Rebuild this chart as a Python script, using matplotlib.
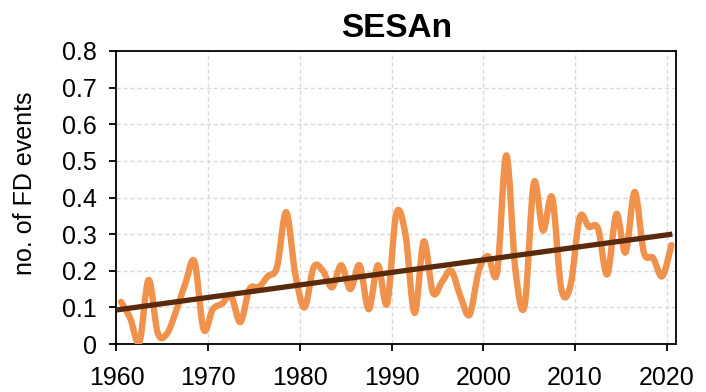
import numpy as np
import matplotlib
matplotlib.use('Agg')
import matplotlib.pyplot as plt
from matplotlib.path import Path
from matplotlib.patches import PathPatch

plt.rcParams['font.family'] = ['Liberation Sans', 'DejaVu Sans']

# annual values, plotted at mid-year
years = list(range(1960, 2021))
fd_events = [
    0.115, 0.07, 0.005, 0.175, 0.03, 0.028, 0.09, 0.165, 0.225, 0.04,    # 1960s
    0.095, 0.11, 0.13, 0.06, 0.15, 0.155, 0.185, 0.21, 0.36, 0.19,       # 1970s
    0.10, 0.21, 0.20, 0.155, 0.215, 0.15, 0.215, 0.095, 0.215, 0.11,     # 1980s
    0.355, 0.30, 0.085, 0.28, 0.14, 0.17, 0.20, 0.13, 0.08, 0.20,        # 1990s
    0.24, 0.195, 0.515, 0.20, 0.105, 0.44, 0.31, 0.40, 0.15, 0.16,       # 2000s
    0.345, 0.32, 0.315, 0.19, 0.355, 0.25, 0.415, 0.25, 0.235, 0.185,    # 2010s
    0.27,
]

# linear trend line end points
trend_x = [1960.0, 2020.6]
trend_y = [0.093, 0.30]

xtick_vals = [1960, 1970, 1980, 1990, 2000, 2010, 2020]
ytick_vals = [0, 0.1, 0.2, 0.3, 0.4, 0.5, 0.6, 0.7, 0.8]
ytick_labels = ['0', '0.1', '0.2', '0.3', '0.4', '0.5', '0.6', '0.7', '0.8']


def smooth_path(xs, ys):
    # excel-style smoothed line as cubic bezier segments
    pts = np.column_stack([xs, ys])
    n = len(pts)
    verts = [pts[0]]
    codes = [Path.MOVETO]
    for i in range(n - 1):
        p0 = pts[max(i - 1, 0)]
        p1 = pts[i]
        p2 = pts[i + 1]
        p3 = pts[min(i + 2, n - 1)]
        c1 = p1 + (p2 - p0) / 6.0
        c2 = p2 - (p3 - p1) / 6.0
        verts += [c1, c2, p2]
        codes += [Path.CURVE4] * 3
    return Path(verts, codes)


fig = plt.figure(figsize=(7.06, 3.92), dpi=100)
ax = fig.add_axes([0.165, 0.1224, 0.7925, 0.7475])

x_mid = np.array(years) + 0.5
path = smooth_path(x_mid, np.array(fd_events))
ax.add_patch(PathPatch(path, facecolor='none', edgecolor='#F0914C',
                       lw=4.6, capstyle='round', joinstyle='round', zorder=3))

ax.plot(trend_x, trend_y, color='#5A2A0C', lw=3.8, solid_capstyle='butt', zorder=4)

ax.set_xlim(1960, 2021)
ax.set_ylim(0, 0.8)
ax.set_xticks(xtick_vals)
ax.set_yticks(ytick_vals)
ax.set_yticklabels(ytick_labels)

ax.grid(True, color='#D9D9D9', linestyle=(0, (3, 2)), linewidth=1.0, zorder=0)
ax.set_axisbelow(True)

for sp in ax.spines.values():
    sp.set_linewidth(1.3)
    sp.set_color('black')

ax.tick_params(axis='both', labelsize=18, length=5, width=1.3, direction='out')
ax.tick_params(axis='x', pad=11)
ax.tick_params(axis='y', pad=9)

ax.set_ylabel('no. of FD events', fontsize=18, va='center')
ax.yaxis.set_label_coords(-0.164, 0.55)
ax.set_title('SESAn', fontsize=24, fontweight='bold', pad=10)

fig.savefig('out.png', dpi=100)
